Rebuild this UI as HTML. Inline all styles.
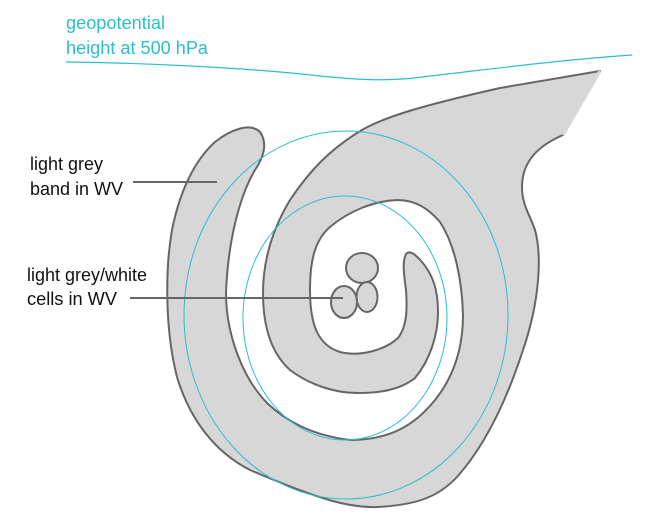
<!DOCTYPE html>
<html><head><style>
html,body{margin:0;padding:0;background:#fff;}
svg{display:block;}
text{font-family:"Liberation Sans",sans-serif;font-size:18px;}
</style></head><body>
<svg width="650" height="524" viewBox="0 0 650 524">
<text x="66" y="29" fill="#2bbfcb" textLength="99" lengthAdjust="spacingAndGlyphs">geopotential</text>
<text x="66" y="54" fill="#2bbfcb" textLength="142" lengthAdjust="spacingAndGlyphs">height at 500 hPa</text>
<path d="M66,62 C150,63 250,68 320,76 C360,80 390,82 430,76 C500,68 560,60 632,55" fill="none" stroke="#2bbfcb" stroke-width="1.2"/>
<path d="M600,71 L563,135 C540,145 522,160 522,187 C522,205 530,215 535,230 C542,255 540,300 523,350 C510,390 490,440 457,477 C440,495 420,505 377,507 C350,508 320,500 250,470 C215,452 190,420 177,377 C165,330 165,270 172,230 C180,190 195,160 215,142 C230,130 250,122 260,132 C267,142 265,155 255,170 C240,195 228,240 226,293 C226,330 240,375 267,403 C285,420 310,435 350,440 C390,440 415,425 435,400 C455,375 463,345 463,315 C462,280 455,245 440,222 C428,208 415,200 397,200 C375,201 350,210 330,227 C315,240 310,260 310,290 C310,325 318,345 340,352 C360,357 385,350 398,338 C408,325 407,305 406,290 C404,275 402,262 406,254 C410,250 415,254 422,262 C433,275 438,290 438,312 C438,335 430,360 415,378 C400,390 380,393 357,393 C335,393 310,385 290,370 C270,352 263,325 263,293 C263,262 272,230 290,200 C310,170 330,150 357,133 C380,118 420,106 500,88 Z" fill="#d7d7d7" stroke="#666" stroke-width="2" stroke-linejoin="round"/>
<path d="M600,71 L563,135" stroke="#d7d7d7" stroke-width="3"/>
<ellipse cx="346" cy="315" rx="162" ry="184" fill="none" stroke="#2bbfcb" stroke-width="1"/>
<ellipse cx="345" cy="318" rx="102" ry="122" fill="none" stroke="#2bbfcb" stroke-width="1"/>
<ellipse cx="362" cy="268" rx="16" ry="15" fill="#d7d7d7" stroke="#666" stroke-width="2"/>
<ellipse cx="367" cy="297" rx="10.5" ry="15" fill="#d7d7d7" stroke="#666" stroke-width="2"/>
<ellipse cx="344" cy="302" rx="13" ry="16" fill="#d7d7d7" stroke="#666" stroke-width="2"/>
<line x1="133" y1="182" x2="217" y2="182" stroke="#666" stroke-width="2"/>
<line x1="130" y1="298" x2="343" y2="298" stroke="#666" stroke-width="2"/>
<text x="30" y="170" fill="#111" textLength="73" lengthAdjust="spacingAndGlyphs">light grey</text>
<text x="30" y="195" fill="#111" textLength="93" lengthAdjust="spacingAndGlyphs">band in WV</text>
<text x="27" y="281" fill="#111" textLength="120" lengthAdjust="spacingAndGlyphs">light grey/white</text>
<text x="27" y="305" fill="#111" textLength="90" lengthAdjust="spacingAndGlyphs">cells in WV</text>
</svg>
</body></html>
